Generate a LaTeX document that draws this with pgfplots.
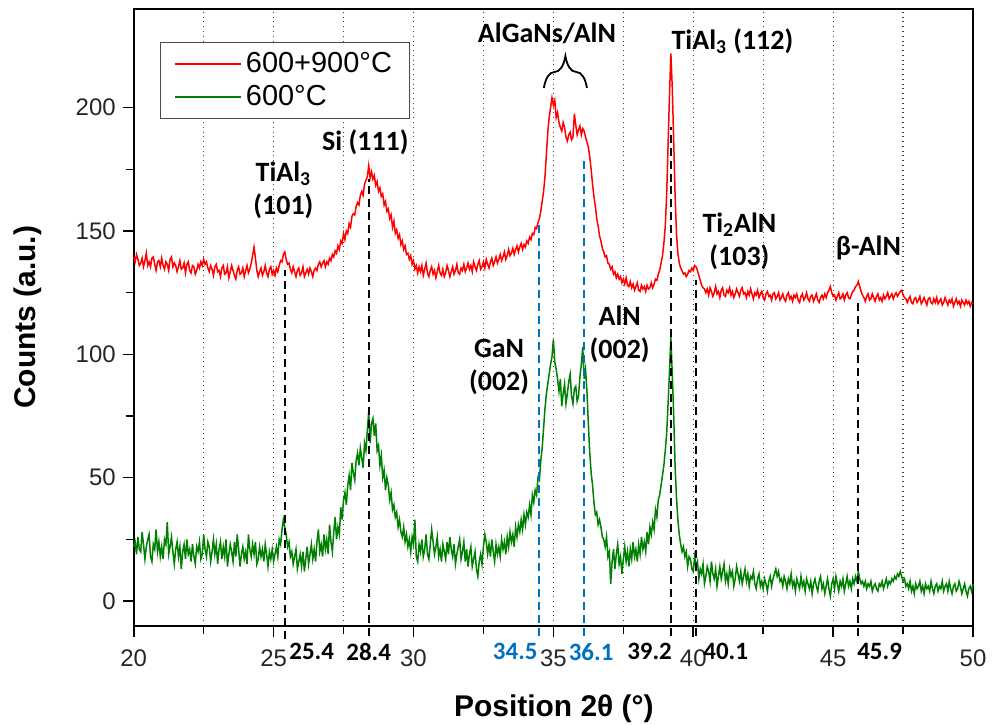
\documentclass[border=0pt]{standalone}
\usepackage{fontspec}
\setmainfont{Liberation Sans}
\newfontfamily\calib{Carlito}
\usepackage{pgfplots}
\pgfplotsset{compat=1.18}
\usetikzlibrary{decorations.pathreplacing}
\definecolor{xblue}{RGB}{0,112,192}
\definecolor{xgreen}{RGB}{0,128,0}
\pgfplotstableread{
x y
20.00 139.5
20.05 137.5
20.10 140.5
20.15 138.5
20.20 136
20.25 137
20.30 139
20.35 135.5
20.40 138
20.45 141
20.50 136
20.55 137.5
20.60 135.5
20.65 139
20.70 139.5
20.75 136.5
20.80 134
20.85 137.5
20.90 138
20.95 135.5
21.00 139
21.05 136
21.10 134.5
21.15 137.5
21.20 136.5
21.25 134
21.30 138.5
21.35 139.5
21.40 135.5
21.45 137
21.50 136
21.55 133.5
21.60 135.5
21.65 138
21.70 134.5
21.75 135
21.80 137
21.85 133
21.90 136.5
21.95 137.5
22.00 134
22.05 133
22.10 136
22.15 135.5
22.20 132.5
22.25 134
22.30 136.5
22.35 135
22.40 137.5
22.45 136
22.50 138.5
22.55 136.5
22.60 137.5
22.65 135
22.70 133.5
22.75 136
22.80 134.5
22.85 132
22.90 135.5
22.95 136.5
23.00 133.5
23.05 134
23.10 131.5
23.15 135
23.20 136
23.25 132.5
23.30 133
23.35 135.5
23.40 131
23.45 133.5
23.50 136
23.55 134
23.60 132
23.65 130.5
23.70 134
23.75 135.5
23.80 132.5
23.85 133
23.90 135
23.95 131.5
24.00 134
24.05 136
24.10 133
24.15 134.5
24.20 137
24.25 140
24.30 143.5
24.35 139
24.40 134
24.45 131.5
24.50 133.5
24.55 135
24.60 132
24.65 133.5
24.70 136
24.75 133
24.80 131.5
24.85 134.5
24.90 135.5
24.95 132.5
25.00 134
25.05 132
25.10 135
25.15 133.5
25.20 136
25.25 138
25.30 137.5
25.35 140.5
25.40 141.5
25.45 138.5
25.50 136.5
25.55 137
25.60 134.5
25.65 133
25.70 135.5
25.75 133.5
25.80 131.5
25.85 134
25.90 135
25.95 132
26.00 133
26.05 135.5
26.10 131.5
26.15 133
26.20 134.5
26.25 132.5
26.30 135
26.35 133.5
26.40 131.5
26.45 134
26.50 135
26.55 134
26.60 136.5
26.65 137.5
26.70 135.5
26.75 137
26.80 138
26.85 135.5
26.90 137.5
26.95 136.5
27.00 139
27.05 138
27.10 140.5
27.15 139.5
27.20 142
27.25 141
27.30 144
27.35 142.5
27.40 146
27.45 145
27.50 149
27.55 146.5
27.60 150
27.65 149
27.70 153
27.75 151.5
27.80 156
27.85 157
27.90 156.5
27.95 160
28.00 161.5
28.05 160.5
28.10 164.5
28.15 166
28.20 164.5
28.25 169
28.30 170.5
28.35 172
28.40 176.5
28.45 171.5
28.50 174
28.55 171
28.60 172.5
28.65 168.5
28.70 170
28.75 166
28.80 167.5
28.85 164
28.90 165
28.95 160.5
29.00 162
29.05 158
29.10 159
29.15 155
29.20 156.5
29.25 151.5
29.30 154
29.35 149
29.40 150.5
29.45 147
29.50 148.5
29.55 144.5
29.60 146
29.65 142.5
29.70 144
29.75 140.5
29.80 141
29.85 138.5
29.90 140
29.95 136.5
30.00 138
30.05 134.5
30.10 136
30.15 133
30.20 135.5
30.25 133.5
30.30 136
30.35 132
30.40 134.5
30.45 137
30.50 133
30.55 131.5
30.60 134
30.65 135.5
30.70 132.5
30.75 134
30.80 131
30.85 133.5
30.90 136
30.95 133
31.00 132
31.05 134.5
31.10 131.5
31.15 133
31.20 136
31.25 134
31.30 131.5
31.35 133.5
31.40 135.5
31.45 132.5
31.50 134
31.55 136.5
31.60 133
31.65 132.5
31.70 135
31.75 134
31.80 136.5
31.85 133.5
31.90 135
31.95 137
32.00 134.5
32.05 136
32.10 133.5
32.15 137.5
32.20 135.5
32.25 134
32.30 136.5
32.35 138
32.40 134.5
32.45 135.5
32.50 137.5
32.55 135
32.60 138.5
32.65 136.5
32.70 135
32.75 137.5
32.80 139
32.85 136
32.90 137.5
32.95 139.5
33.00 137
33.05 138.5
33.10 140.5
33.15 138
33.20 139.5
33.25 141.5
33.30 138.5
33.35 140
33.40 142.5
33.45 140
33.50 141
33.55 143
33.60 140.5
33.65 142.5
33.70 144
33.75 141.5
33.80 143.5
33.85 145
33.90 142.5
33.95 144.5
34.00 143.5
34.05 146
34.10 145
34.15 147.5
34.20 146.5
34.25 149
34.30 148.5
34.35 151.5
34.40 151
34.45 153.5
34.50 155
34.55 158
34.60 162
34.65 166
34.70 172
34.75 181
34.80 190
34.85 196
34.90 200
34.95 204
35.00 201
35.05 203
35.10 196
35.15 198
35.20 194
35.25 192
35.30 190.5
35.35 194
35.40 192
35.45 188
35.50 186.5
35.55 189
35.60 190
35.65 187
35.70 188
35.75 197.5
35.80 193
35.85 189
35.90 191
35.95 192.5
36.00 189
36.05 191.5
36.10 190.5
36.15 188
36.20 186
36.25 184
36.30 180
36.35 175
36.40 169
36.45 164
36.50 160
36.55 155
36.60 152
36.65 148
36.70 146
36.75 143
36.80 141.5
36.85 139.5
36.90 140
36.95 137
37.00 136.5
37.05 134.5
37.10 135.5
37.15 132.5
37.20 133.5
37.25 131
37.30 132.5
37.35 130.5
37.40 131.5
37.45 129
37.50 130.5
37.55 128.5
37.60 131
37.65 128
37.70 127.5
37.75 129.5
37.80 127
37.85 128.5
37.90 126
37.95 127.5
38.00 129
38.05 126
38.10 125.5
38.15 128
38.20 126.5
38.25 127.5
38.30 125.5
38.35 128
38.40 126.5
38.45 127
38.50 129
38.55 127
38.60 128.5
38.65 130.5
38.70 130
38.75 132.5
38.80 134
38.85 137
38.90 140
38.95 145
39.00 152
39.05 165
39.10 185
39.15 205
39.20 222
39.25 208
39.30 187
39.35 165
39.40 149
39.45 141
39.50 137
39.55 135
39.60 134
39.65 132.5
39.70 133
39.75 131.5
39.80 132.5
39.85 134
39.90 133.5
39.95 135
40.00 134
40.05 136
40.10 135.5
40.15 134
40.20 132
40.25 130
40.30 128
40.35 127
40.40 126.5
40.45 125
40.50 126.5
40.55 124
40.60 127
40.65 125.5
40.70 123.5
40.75 125
40.80 127.5
40.85 124.5
40.90 125.5
40.95 123
41.00 126
41.05 127
41.10 124
41.15 123.5
41.20 126
41.25 125
41.30 127
41.35 124
41.40 125.5
41.45 123
41.50 124.5
41.55 126.5
41.60 125
41.65 123.5
41.70 126
41.75 127
41.80 124.5
41.85 125
41.90 123
41.95 125.5
42.00 124
42.05 126.5
42.10 124.5
42.15 122.5
42.20 125
42.25 124
42.30 126
42.35 123
42.40 124.5
42.45 125.5
42.50 123
42.55 122
42.60 124.5
42.65 125.5
42.70 123.5
42.75 124
42.80 122
42.85 124.5
42.90 125
42.95 122.5
43.00 123.5
43.05 125
43.10 122
43.15 123
43.20 124.5
43.25 122.5
43.30 121.5
43.35 124
43.40 125
43.45 122.5
43.50 123.5
43.55 121.5
43.60 124
43.65 123
43.70 124.5
43.75 122
43.80 121
43.85 123.5
43.90 124.5
43.95 122
44.00 123
44.05 125
44.10 122.5
44.15 121.5
44.20 123.5
44.25 124
44.30 121.5
44.35 123
44.40 124.5
44.45 122
44.50 121
44.55 123
44.60 124
44.65 122.5
44.70 124.5
44.75 123
44.80 125
44.85 126
44.90 127.5
44.95 125
45.00 123.5
45.05 124
45.10 122
45.15 123.5
45.20 125
45.25 122.5
45.30 123
45.35 124.5
45.40 122
45.45 124
45.50 125
45.55 123
45.60 122.5
45.65 124
45.70 125.5
45.75 126
45.80 127.5
45.85 128
45.90 129.5
45.95 127.5
46.00 125.5
46.05 124
46.10 123
46.15 121.5
46.20 123.5
46.25 124.5
46.30 122
46.35 122.5
46.40 124.5
46.45 123
46.50 121.5
46.55 123.5
46.60 124.5
46.65 122
46.70 123
46.75 121.5
46.80 124
46.85 122.5
46.90 123.5
46.95 125
47.00 122.5
47.05 123.5
47.10 124.5
47.15 122.5
47.20 124
47.25 125
47.30 123.5
47.35 124.5
47.40 125.5
47.45 126
47.50 124
47.55 123
47.60 122.5
47.65 121
47.70 122.5
47.75 123.5
47.80 121
47.85 120.5
47.90 122.5
47.95 123
48.00 121
48.05 122
48.10 123.5
48.15 120.5
48.20 121.5
48.25 123
48.30 121.5
48.35 120
48.40 122.5
48.45 123
48.50 121
48.55 120.5
48.60 122.5
48.65 121
48.70 123
48.75 120.5
48.80 121.5
48.85 122.5
48.90 120
48.95 121
49.00 123
49.05 121.5
49.10 120
49.15 122
49.20 121
49.25 122.5
49.30 119.5
49.35 121
49.40 122.5
49.45 120.5
49.50 121.5
49.55 119.5
49.60 122
49.65 121
49.70 120
49.75 122
49.80 120.5
49.85 121.5
49.90 119.5
49.95 121
50.00 120.5
}\redtable
\pgfplotstableread{
x y
20.00 22
20.05 24
20.10 19
20.15 26
20.20 21
20.25 20
20.30 28
20.35 23
20.40 17
20.45 22
20.50 25
20.55 27
20.60 18
20.65 16
20.70 23
20.75 21
20.80 29
20.85 20
20.90 24
20.95 18
21.00 22
21.05 17
21.10 25
21.15 23
21.20 32
21.25 19
21.30 22
21.35 26
21.40 20
21.45 15
21.50 21
21.55 24
21.60 18
21.65 22
21.70 13
21.75 20
21.80 23
21.85 17
21.90 25
21.95 19
22.00 21
22.05 16
22.10 23
22.15 18
22.20 15
22.25 22
22.30 20
22.35 24
22.40 17
22.45 19
22.50 27
22.55 21
22.60 18
22.65 24
22.70 22
22.75 16
22.80 20
22.85 25
22.90 19
22.95 23
23.00 15
23.05 21
23.10 24
23.15 17
23.20 22
23.25 18
23.30 25
23.35 14
23.40 19
23.45 23
23.50 20
23.55 16
23.60 24
23.65 18
23.70 27
23.75 21
23.80 14
23.85 19
23.90 22
23.95 17
24.00 20
24.05 15
24.10 27
24.15 21
24.20 18
24.25 23
24.30 19
24.35 24
24.40 15
24.45 17
24.50 22
24.55 18
24.60 21
24.65 16
24.70 23
24.75 19
24.80 14
24.85 20
24.90 17
24.95 21
25.00 16
25.05 19
25.10 22
25.15 18
25.20 25
25.25 23
25.30 29
25.35 33
25.40 30
25.45 27
25.50 22
25.55 24
25.60 18
25.65 20
25.70 15
25.75 18
25.80 21
25.85 13
25.90 16
25.95 19
26.00 14
26.05 20
26.10 12
26.15 17
26.20 22
26.25 15
26.30 19
26.35 23
26.40 17
26.45 21
26.50 16
26.55 24
26.60 29
26.65 20
26.70 23
26.75 18
26.80 27
26.85 21
26.90 25
26.95 19
27.00 31
27.05 24
27.10 20
27.15 28
27.20 34
27.25 25
27.30 30
27.35 27
27.40 38
27.45 33
27.50 41
27.55 44
27.60 39
27.65 47
27.70 51
27.75 45
27.80 56
27.85 52
27.90 49
27.95 57
28.00 60
28.05 55
28.10 62
28.15 58
28.20 54
28.25 64
28.30 61
28.35 69
28.40 77
28.45 64
28.50 72
28.55 74
28.60 67
28.65 72
28.70 61
28.75 63
28.80 55
28.85 59
28.90 50
28.95 53
29.00 45
29.05 50
29.10 47
29.15 41
29.20 44
29.25 37
29.30 39
29.35 34
29.40 36
29.45 30
29.50 33
29.55 28
29.60 26
29.65 30
29.70 24
29.75 27
29.80 22
29.85 25
29.90 20
29.95 26
30.00 23
30.05 33
30.10 18
30.15 16
30.20 23
30.25 20
30.30 25
30.35 18
30.40 21
30.45 27
30.50 19
30.55 17
30.60 23
30.65 29
30.70 24
30.75 19
30.80 22
30.85 26
30.90 18
30.95 21
31.00 16
31.05 23
31.10 20
31.15 17
31.20 24
31.25 19
31.30 26
31.35 21
31.40 18
31.45 23
31.50 15
31.55 19
31.60 22
31.65 25
31.70 17
31.75 20
31.80 24
31.85 16
31.90 21
31.95 14
32.00 19
32.05 22
32.10 14
32.15 17
32.20 20
32.25 13
32.30 10
32.35 16
32.40 19
32.45 15
32.50 22
32.55 27
32.60 24
32.65 19
32.70 23
32.75 18
32.80 25
32.85 20
32.90 16
32.95 23
33.00 19
33.05 22
33.10 18
33.15 25
33.20 21
33.25 24
33.30 19
33.35 26
33.40 22
33.45 28
33.50 24
33.55 27
33.60 22
33.65 30
33.70 26
33.75 31
33.80 28
33.85 33
33.90 29
33.95 35
34.00 31
34.05 36
34.10 34
34.15 39
34.20 35
34.25 43
34.30 40
34.35 45
34.40 43
34.45 50
34.50 49
34.55 57
34.60 62
34.65 70
34.70 78
34.75 84
34.80 88
34.85 92
34.90 96
34.95 99
35.00 106
35.05 97
35.10 94
35.15 90
35.20 85
35.25 90
35.30 79
35.35 84
35.40 88
35.45 80
35.50 84
35.55 89
35.60 92
35.65 83
35.70 80
35.75 86
35.80 87
35.85 81
35.90 83
35.95 91
36.00 96
36.05 103
36.10 90
36.15 94
36.20 85
36.25 72
36.30 60
36.35 52
36.40 47
36.45 40
36.50 35
36.55 36
36.60 31
36.65 33
36.70 30
36.75 26
36.80 25
36.85 22
36.90 26
36.95 18
37.00 20
37.05 7
37.10 16
37.15 21
37.20 13
37.25 19
37.30 23
37.35 15
37.40 18
37.45 11
37.50 17
37.55 22
37.60 16
37.65 20
37.70 14
37.75 21
37.80 17
37.85 24
37.90 18
37.95 21
38.00 16
38.05 23
38.10 19
38.15 26
38.20 21
38.25 24
38.30 20
38.35 28
38.40 23
38.45 30
38.50 27
38.55 32
38.60 29
38.65 37
38.70 34
38.75 41
38.80 43
38.85 47
38.90 51
38.95 55
39.00 61
39.05 68
39.10 80
39.15 93
39.20 107
39.25 92
39.30 76
39.35 55
39.40 42
39.45 33
39.50 27
39.55 23
39.60 20
39.65 22
39.70 18
39.75 20
39.80 14
39.85 18
39.90 17
39.95 13
40.00 12
40.05 18
40.10 14
40.15 16
40.20 9
40.25 13
40.30 11
40.35 15
40.40 7
40.45 10
40.50 14
40.55 12
40.60 8
40.65 16
40.70 11
40.75 9
40.80 13
40.85 6
40.90 10
40.95 14
41.00 9
41.05 12
41.10 15
41.15 8
41.20 11
41.25 7
41.30 13
41.35 10
41.40 12
41.45 6
41.50 9
41.55 14
41.60 11
41.65 8
41.70 12
41.75 7
41.80 10
41.85 13
41.90 8
41.95 11
42.00 6
42.05 10
42.10 9
42.15 12
42.20 7
42.25 5
42.30 9
42.35 11
42.40 6
42.45 8
42.50 5
42.55 9
42.60 7
42.65 4
42.70 8
42.75 10
42.80 6
42.85 9
42.90 11
42.95 13
43.00 10
43.05 12
43.10 8
43.15 9
43.20 6
43.25 10
43.30 8
43.35 5
43.40 9
43.45 7
43.50 11
43.55 6
43.60 8
43.65 4
43.70 9
43.75 7
43.80 5
43.85 10
43.90 6
43.95 8
44.00 4
44.05 9
44.10 7
44.15 5
44.20 8
44.25 3
44.30 7
44.35 9
44.40 6
44.45 4
44.50 8
44.55 10
44.60 5
44.65 7
44.70 3
44.75 6
44.80 9
44.85 5
44.90 2
44.95 7
45.00 9
45.05 5
45.10 10
45.15 7
45.20 4
45.25 8
45.30 6
45.35 9
45.40 4
45.45 7
45.50 10
45.55 6
45.60 8
45.65 5
45.70 9
45.75 7
45.80 10
45.85 8
45.90 12
45.95 9
46.00 7
46.05 8
46.10 6
46.15 8
46.20 5
46.25 7
46.30 6
46.35 8
46.40 4
46.45 6
46.50 7
46.55 5
46.60 4
46.65 7
46.70 6
46.75 8
46.80 5
46.85 7
46.90 9
46.95 6
47.00 8
47.05 7
47.10 9
47.15 8
47.20 10
47.25 9
47.30 11
47.35 10
47.40 12
47.45 10
47.50 8
47.55 9
47.60 6
47.65 7
47.70 5
47.75 8
47.80 4
47.85 6
47.90 3
47.95 7
48.00 5
48.05 6
48.10 8
48.15 4
48.20 6
48.25 3
48.30 7
48.35 5
48.40 6
48.45 4
48.50 8
48.55 5
48.60 3
48.65 6
48.70 7
48.75 4
48.80 6
48.85 5
48.90 8
48.95 4
49.00 6
49.05 7
49.10 4
49.15 8
49.20 5
49.25 3
49.30 6
49.35 7
49.40 4
49.45 5
49.50 8
49.55 6
49.60 3
49.65 5
49.70 7
49.75 4
49.80 2
49.85 5
49.90 6
49.95 4
50.00 7
}\greentable
\begin{document}
\begin{tikzpicture}
\begin{axis}[
  scale only axis, width=420.5pt, height=309pt,
  xmin=20, xmax=50, ymin=-10, ymax=240,
  xtick={20,25,...,50}, ytick={0,50,...,200},
  minor x tick num=1, minor y tick num=1,
  tick align=outside, xtick pos=left, ytick pos=left,
  major tick length=5.5pt, minor tick length=4pt,
  every tick/.style={black, line width=0.8pt},
  xmajorgrids, xminorgrids,
  major grid style={dotted, black!75, line width=0.6pt},
  minor grid style={dotted, black!75, line width=0.6pt},
  axis line style={black, line width=0.9pt},
  clip=false,
  /pgf/number format/assume math mode=true,
  ticklabel style={font=\fontsize{12}{14}\selectfont, text=black!85},
  xticklabel style={yshift=-3pt},
  xlabel={\textbf{Position 2θ (°)}},
  ylabel={\textbf{Counts (a.u.)}},
  xlabel style={at={(axis description cs:0.5006,-0.134)}, anchor=center, inner sep=0pt, font=\fontsize{15}{17}\selectfont},
  ylabel style={at={(axis description cs:-0.126,0.5)}, anchor=center, inner sep=0pt, font=\fontsize{15}{17}\selectfont},
  legend style={at={(axis description cs:0.031,0.947)}, anchor=north west, draw=black!70, line width=0.6pt, font=\fontsize{14.5}{17}\selectfont, inner xsep=7pt, inner ysep=3pt, row sep=1pt},
  legend cell align=left,
]
\addlegendimage{red, line width=0.9pt, legend image code/.code={\draw[red, line width=0.9pt] (0pt,0pt) -- (33pt,0pt);}}
\addlegendentry{600+900°C}
\addlegendimage{xgreen, line width=0.9pt, legend image code/.code={\draw[xgreen, line width=0.9pt] (0pt,0pt) -- (33pt,0pt);}}
\addlegendentry{600°C}
\addplot[red, line width=0.75pt, forget plot] table[x=x, y=y] {\redtable};
\addplot[xgreen, line width=0.75pt, forget plot] table[x=x, y=y] {\greentable};

\draw[black, line width=1pt, dash pattern=on 4pt off 2.5pt] (axis cs:25.4,-15.5) -- (axis cs:25.4,134);
\draw[black, line width=1pt, dash pattern=on 4pt off 2.5pt] (axis cs:28.4,-14) -- (axis cs:28.4,171);
\draw[xblue, line width=1pt, dash pattern=on 4pt off 2.5pt] (axis cs:34.5,-14) -- (axis cs:34.5,154);
\draw[xblue, line width=1pt, dash pattern=on 4pt off 2.5pt] (axis cs:36.1,-14) -- (axis cs:36.1,179);
\draw[black, line width=1pt, dash pattern=on 4pt off 2.5pt] (axis cs:39.2,-14) -- (axis cs:39.2,192);
\draw[black, line width=1pt, dash pattern=on 4pt off 2.5pt] (axis cs:40.1,-14) -- (axis cs:40.1,130);
\draw[black, line width=1pt, dash pattern=on 4pt off 2.5pt] (axis cs:45.9,-14) -- (axis cs:45.9,122);

\begin{scope}[every node/.style={font=\calib\bfseries\fontsize{12.5}{14}\selectfont, inner sep=0pt}]
\node[anchor=west] at (axis cs:25.55,-20.5) {25.4};
\node at (axis cs:28.4,-20.5) {28.4};
\node[anchor=east, text=xblue] at (axis cs:34.45,-20.5) {34.5};
\node[text=xblue] at (axis cs:36.35,-20.5) {36.1};
\node[anchor=east] at (axis cs:39.25,-20.5) {39.2};
\node[anchor=west] at (axis cs:40.35,-20.5) {40.1};
\node[anchor=west] at (axis cs:45.85,-20.5) {45.9};
\end{scope}

\begin{scope}[every node/.style={font=\calib\bfseries\fontsize{14}{16.5}\selectfont, align=center, inner sep=0pt}]
\node at (axis cs:25.35,166.5) {TiAl\textsubscript{3}\\(101)};
\node at (axis cs:28.28,186) {Si (111)};
\node at (axis cs:34.77,230) {AlGaNs/AlN};
\node at (axis cs:41.4,227) {TiAl\textsubscript{3} (112)};
\node at (axis cs:41.65,146) {Ti\textsubscript{2}AlN\\(103)};
\node at (axis cs:46.26,143) {β-AlN};
\node at (axis cs:33.06,94.8) {GaN\\(002)};
\node at (axis cs:37.37,108) {AlN\\(002)};
\end{scope}

\draw[decorate, decoration={brace, amplitude=16pt}, line width=0.9pt] (axis cs:34.66,208) -- (axis cs:36.2,208);
\end{axis}
\path (current axis.south west) ++(-67pt,-49.5pt);
\path (current axis.north east) ++(9pt,4.5pt);
\end{tikzpicture}
\end{document}
